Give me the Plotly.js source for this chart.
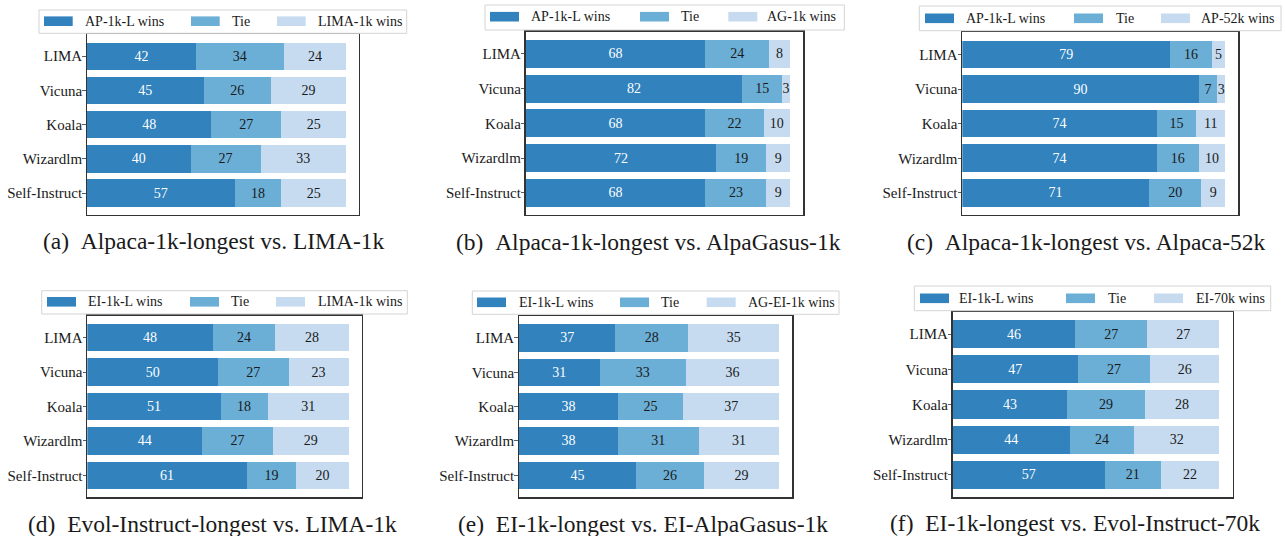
<!DOCTYPE html>
<html>
<head>
<meta charset="utf-8">
<script src="https://cdn.plot.ly/plotly-3.0.1.min.js"></script>
<style>html,body{margin:0;padding:0;background:#fff;}#chart{width:1285px;height:536px;}</style>
</head>
<body>
<div id="chart"></div>
<script>
// ---- data ----
const categories = ["LIMA", "Vicuna", "Koala", "Wizardlm", "Self-Instruct"];

const a_win = [42, 45, 48, 40, 57];
const a_tie = [34, 26, 27, 27, 18];
const a_lose = [24, 29, 25, 33, 25];

const b_win = [68, 82, 68, 72, 68];
const b_tie = [24, 15, 22, 19, 23];
const b_lose = [8, 3, 10, 9, 9];

const c_win = [79, 90, 74, 74, 71];
const c_tie = [16, 7, 15, 16, 20];
const c_lose = [5, 3, 11, 10, 9];

const d_win = [48, 50, 51, 44, 61];
const d_tie = [24, 27, 18, 27, 19];
const d_lose = [28, 23, 31, 29, 20];

const e_win = [37, 31, 38, 38, 45];
const e_tie = [28, 33, 25, 31, 26];
const e_lose = [35, 36, 37, 31, 29];

const f_win = [46, 47, 43, 44, 57];
const f_tie = [27, 27, 29, 24, 21];
const f_lose = [27, 26, 28, 32, 22];

const a_labels = ["AP-1k-L wins", "Tie", "LIMA-1k wins"];
const b_labels = ["AP-1k-L wins", "Tie", "AG-1k wins"];
const c_labels = ["AP-1k-L wins", "Tie", "AP-52k wins"];
const d_labels = ["EI-1k-L wins", "Tie", "LIMA-1k wins"];
const e_labels = ["EI-1k-L wins", "Tie", "AG-EI-1k wins"];
const f_labels = ["EI-1k-L wins", "Tie", "EI-70k wins"];

const captions = [
  "(a)\u00a0\u00a0Alpaca-1k-longest vs. LIMA-1k",
  "(b)\u00a0\u00a0Alpaca-1k-longest vs. AlpaGasus-1k",
  "(c)\u00a0\u00a0Alpaca-1k-longest vs. Alpaca-52k",
  "(d)\u00a0\u00a0Evol-Instruct-longest vs. LIMA-1k",
  "(e)\u00a0\u00a0EI-1k-longest vs. EI-AlpaGasus-1k",
  "(f)\u00a0\u00a0EI-1k-longest vs. Evol-Instruct-70k"
];

// ---- style / layout ----
const W = 1285, H = 536;
const colors = ["#3182bd", "#6baed6", "#c6dbef"];
const textColors = ["#ffffff", "#1a1a1a", "#1a1a1a"];
const FONT = "Liberation Serif, Times New Roman, serif";

const panels = [
  {series: [a_win, a_tie, a_lose], labels: a_labels,
   frame: [87, 359, 34.3, 215],
   legBox: [39, 406.7, 10, 33.3], legPatch: [44, 191, 277], legText: [83.7, 231, 316.7], legPatchW: 28.7, legY: 21.2,
   cap: [214, 241]},
  {series: [b_win, b_tie, b_lose], labels: b_labels,
   frame: [525.7, 803.3, 31.7, 215],
   legBox: [485, 844.3, 5, 30], legPatch: [490, 640, 728.3], legText: [530, 680, 766], legPatchW: 29, legY: 16.7,
   cap: [648, 241.5]},
  {series: [c_win, c_tie, c_lose], labels: c_labels,
   frame: [962.3, 1238.3, 32.3, 215],
   legBox: [919.3, 1281, 6, 30.7], legPatch: [925, 1074, 1161], legText: [965, 1115, 1200], legPatchW: 29, legY: 18.3,
   cap: [1086, 241.5]},
  {series: [d_win, d_tie, d_lose], labels: d_labels,
   frame: [87.3, 361.7, 315.7, 497.3],
   legBox: [41.7, 407.3, 290.7, 314], legPatch: [47, 190, 276], legText: [87.3, 230, 316.7], legPatchW: 29, legY: 301.8,
   cap: [212, 524]},
  {series: [e_win, e_tie, e_lose], labels: e_labels,
   frame: [519, 792.3, 316, 497.3],
   legBox: [472.3, 839, 291, 314.3], legPatch: [477, 620, 706.7], legText: [517.7, 660, 746.7], legPatchW: 29, legY: 302.3,
   cap: [643, 524]},
  {series: [f_win, f_tie, f_lose], labels: f_labels,
   frame: [952.7, 1232.7, 311.7, 497.3],
   legBox: [914.3, 1270.7, 286, 310.7], legPatch: [920, 1066, 1154], legText: [958.3, 1106.7, 1195], legPatchW: 29, legY: 298.3,
   cap: [1075, 523]}
];

const px = v => v / W;
const py = v => 1 - v / H;

const traces = [];
const layout = {
  width: W, height: H,
  margin: {l: 0, r: 0, t: 0, b: 0},
  paper_bgcolor: "#ffffff",
  plot_bgcolor: "#ffffff",
  barmode: "stack",
  bargap: 0.2,
  showlegend: false,
  font: {family: FONT, size: 14, color: "#1a1a1a"},
  shapes: [],
  annotations: []
};

panels.forEach((p, i) => {
  const n = i + 1;
  const xa = n === 1 ? "x" : "x" + n;
  const ya = n === 1 ? "y" : "y" + n;
  p.series.forEach((vals, k) => {
    traces.push({
      type: "bar", orientation: "h",
      x: vals, y: categories,
      name: p.labels[k],
      xaxis: xa, yaxis: ya,
      marker: {color: colors[k], line: {width: 0}},
      text: vals.map(String),
      textposition: "inside",
      insidetextanchor: "middle",
      constraintext: "none",
      insidetextfont: {family: FONT, size: 14, color: textColors[k]},
      hoverinfo: "skip",
      cliponaxis: false
    });
  });
  const [x0, x1, y0, y1] = p.frame;
  layout[n === 1 ? "xaxis" : "xaxis" + n] = {
    domain: [px(x0), px(x1)],
    anchor: ya,
    range: [0, 105],
    showgrid: false, zeroline: false,
    showline: true, mirror: true, linecolor: "#333333", linewidth: 1.3,
    showticklabels: false, ticks: "",
    fixedrange: true
  };
  layout[n === 1 ? "yaxis" : "yaxis" + n] = {
    domain: [py(y1), py(y0)],
    anchor: xa,
    type: "category",
    categoryorder: "array", categoryarray: categories,
    range: [4.64, -0.64],
    showgrid: false, zeroline: false,
    showline: true, mirror: true, linecolor: "#333333", linewidth: 1.3,
    ticks: "outside", ticklen: 3.5, tickwidth: 0.8, tickcolor: "#333333",
    ticklabelstandoff: -3,
    tickfont: {family: FONT, size: 15, color: "#1a1a1a"},
    fixedrange: true
  };
  // legend (drawn as paper-space shapes + text)
  const [bx0, bx1, by0, by1] = p.legBox;
  layout.shapes.push({
    type: "rect", xref: "paper", yref: "paper",
    x0: px(bx0), x1: px(bx1), y0: py(by1), y1: py(by0),
    line: {color: "#d4d4d4", width: 1}, fillcolor: "#ffffff", layer: "above"
  });
  for (let k = 0; k < 3; k++) {
    layout.shapes.push({
      type: "rect", xref: "paper", yref: "paper",
      x0: px(p.legPatch[k]), x1: px(p.legPatch[k] + p.legPatchW),
      y0: py(p.legY + 4.8), y1: py(p.legY - 4.8),
      line: {width: 0}, fillcolor: colors[k], layer: "above"
    });
    layout.annotations.push({
      xref: "paper", yref: "paper",
      x: px(p.legText[k]), y: py(p.legY),
      xanchor: "left", yanchor: "middle",
      text: p.labels[k], showarrow: false,
      font: {family: FONT, size: 14, color: "#1a1a1a"},
      borderpad: 0
    });
  }
  layout.annotations.push({
    xref: "paper", yref: "paper",
    x: px(p.cap[0]), y: py(p.cap[1]),
    xanchor: "center", yanchor: "middle",
    text: captions[i], showarrow: false,
    font: {family: FONT, size: 23.5, color: "#1a1a1a"}
  });
});

Plotly.newPlot("chart", traces, layout, {staticPlot: true, displayModeBar: false});
</script>
</body>
</html>
